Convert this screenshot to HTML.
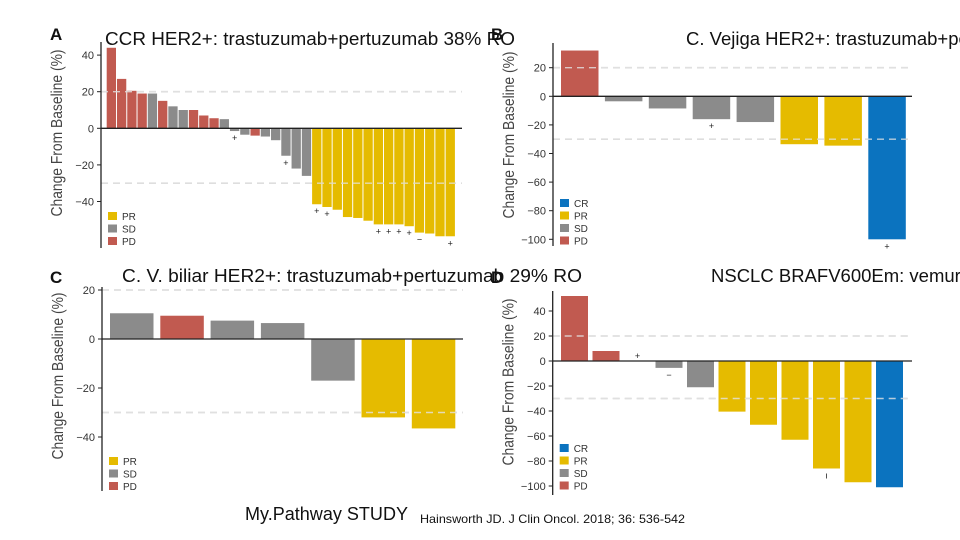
<!DOCTYPE html>
<html><head><meta charset="utf-8">
<style>
html,body{margin:0;padding:0;background:#fff;width:960px;height:540px;overflow:hidden;font-family:"Liberation Sans",sans-serif}
svg{position:absolute;left:0;top:0}
.tick{font-size:11px;fill:#333;text-anchor:end}
.ytitle{font-family:"Liberation Sans Narrow","Liberation Sans",sans-serif;font-size:16px;fill:#444}
.leg{font-size:10px;fill:#333}
.title{font-size:18.5px;fill:#111}
.cite{font-size:12px;fill:#111}
.letter{font-size:17px;font-weight:bold;fill:#111}
</style></head>
<body>
<svg id="chart" width="960" height="540"></svg>
<script>
// Panel A data
const aValues=[44,27,20.5,19,19,15,12,10,10,7,5.5,5,-1.5,-3.5,-4,-4.5,-6.5,-15,-22,-26,-41.5,-43,-44.5,-48.5,-49,-50.5,-52.5,-52.5,-52.5,-53.5,-57,-57.5,-59,-59];
const aStatus=["PD","PD","PD","PD","SD","PD","SD","SD","PD","PD","PD","SD","SD","SD","PD","SD","SD","SD","SD","SD","PR","PR","PR","PR","PR","PR","PR","PR","PR","PR","PR","PR","PR","PR"];
const aMarks=["","","","","","","","","","","","","+","","","","","+","","","+","+","","","","","+","+","+","+","−","","","+"];
const aTicks=[40,20,0,-20,-40];
// Panel B data
const bValues=[32,-3.5,-8.5,-16,-18,-33.5,-34.5,-100];
const bStatus=["PD","SD","SD","SD","SD","PR","PR","CR"];
const bMarks=["","","","+","","","","+"];
const bTicks=[20,0,-20,-40,-60,-80,-100];
// Panel C data
const cValues=[10.5,9.5,7.5,6.5,-17,-32,-36.5];
const cStatus=["SD","PD","SD","SD","SD","PR","PR"];
const cMarks=["","","","","","",""];
const cTicks=[20,0,-20,-40];
// Panel D data
const dValues=[52,8,0,-5.5,-21,-40.5,-51,-63,-86,-97,-101];
const dStatus=["PD","PD","PD","SD","SD","PR","PR","PR","PR","PR","CR"];
const dMarks=["","","+","−","","","","","ı","",""];
const dTicks=[40,20,0,-20,-40,-60,-80,-100];

const COLORS={PD:"#c15a50",SD:"#8b8b8b",PR:"#e5bb00",CR:"#0b73bf"};
const NS="http://www.w3.org/2000/svg";
const svg=document.getElementById('chart');
function mk(tag,attrs,parent,txt){const e=document.createElementNS(NS,tag);for(const k in attrs)e.setAttribute(k,attrs[k]);if(txt!==undefined)e.textContent=txt;(parent||svg).appendChild(e);return e;}

function panel(id,cfg,values,status,marks,ticks,legend){
  const g=mk('g',{});
  
  
  const y=v=>cfg.y0-v*cfg.k;
  const x=i=>cfg.left+i*cfg.step;
  [20,-30].forEach(v=>{
    const l=mk('line',{x1:cfg.ax,x2:cfg.xend,y1:y(v),y2:y(v),stroke:'#d0d0d0','stroke-width':1.6,'stroke-dasharray':'7,5'},g);
    
    
  });
  values.forEach((v,i)=>{
    const top=Math.min(y(0),y(v)),h=Math.abs(y(v)-y(0));
    const r=mk('rect',{x:x(i),y:top,width:cfg.w,height:Math.max(h,0.01),fill:COLORS[status[i]]},g);
    
    
    if(marks[i]){
      const my=(v<0?y(v)+10:y(v)-2);
      const t=mk('text',{x:x(i)+cfg.w/2,y:my,'text-anchor':'middle','font-size':9,fill:'#222'},g,marks[i]);
      
      
    }
  });
  [20,-30].forEach(v=>{
    mk('line',{x1:cfg.ax,x2:cfg.xend,y1:y(v),y2:y(v),stroke:'#e4e4e4','stroke-width':1.4,'stroke-dasharray':'7,5',opacity:0.8},g);
  });
  const za=mk('line',{x1:cfg.ax,x2:cfg.xend,y1:y(0),y2:y(0),stroke:'#222','stroke-width':1.3},g);
  
  
  const ya=mk('line',{x1:cfg.ax,x2:cfg.ax,y1:cfg.atop,y2:cfg.abot,stroke:'#222','stroke-width':1.3},g);
  
  
  ticks.forEach(v=>{
    mk('line',{x1:cfg.ax-4,x2:cfg.ax,y1:y(v),y2:y(v),stroke:'#222','stroke-width':1},g);
    const t=mk('text',{x:cfg.ax-7,y:y(v)+4,class:'tick'},g,v<0?'−'+(-v):String(v));
    
    
  });
  const yt=mk('text',{class:'ytitle',transform:`translate(${cfg.ax-39},${cfg.tc}) rotate(-90)`,'text-anchor':'middle',textLength:167,lengthAdjust:'spacingAndGlyphs'},g,'Change From Baseline (%)');
  
  
  legend.forEach((s,i)=>{
    const ly=cfg.ly+i*12.5;
    const sq=mk('rect',{x:cfg.ax+7,y:ly-8,width:9,height:8,fill:COLORS[s]},g);
    
    
    const lt=mk('text',{x:cfg.ax+21,y:ly,class:'leg'},g,s);
    
    
  });
}

panel('panel-a',{ax:101,y0:128.3,k:1.83,left:106.7,step:10.27,w:9.3,xend:462,atop:42,abot:248,tc:133,ly:220},aValues,aStatus,aMarks,aTicks,["PR","SD","PD"]);
panel('panel-b',{ax:553,y0:96.3,k:1.43,left:561,step:43.9,w:37.5,xend:912,atop:43,abot:246,tc:135,ly:207},bValues,bStatus,bMarks,bTicks,["CR","PR","SD","PD"]);
panel('panel-c',{ax:102,y0:339,k:2.45,left:110,step:50.3,w:43.5,xend:463,atop:287,abot:491,tc:376,ly:465},cValues,cStatus,cMarks,cTicks,["PR","SD","PD"]);
panel('panel-d',{ax:552.7,y0:361,k:1.25,left:561,step:31.5,w:27,xend:912,atop:291,abot:495,tc:382,ly:452},dValues,dStatus,dMarks,dTicks,["CR","PR","SD","PD"]);

function txt(name,x,y,cls,s,extra){const t=mk('text',Object.assign({x:x,y:y,class:cls},extra||{}),svg,s);}
txt('panel-a-letter',50,40,'letter','A');
txt('panel-b-letter',491,40,'letter','B');
txt('panel-c-letter',50,283,'letter','C');
txt('panel-d-letter',491,283,'letter','D');
txt('title-ccr',105,45,'title','CCR HER2+: trastuzumab+pertuzumab 38% RO',{textLength:410,lengthAdjust:'spacingAndGlyphs'});
txt('title-vejiga',686,45,'title','C. Vejiga HER2+: trastuzumab+pertuzumab');
txt('title-biliar',122,282,'title','C. V. biliar HER2+: trastuzumab+pertuzumab 29% RO',{textLength:460,lengthAdjust:'spacingAndGlyphs'});
txt('title-nsclc',711,282,'title','NSCLC BRAFV600Em: vemurafenib');
txt('study-label',245,520,'title','My.Pathway STUDY',{textLength:163,lengthAdjust:'spacingAndGlyphs'});
txt('citation',420,523,'cite','Hainsworth JD. J Clin Oncol. 2018; 36: 536-542',{textLength:265,lengthAdjust:'spacingAndGlyphs'});
</script>
</body></html>
